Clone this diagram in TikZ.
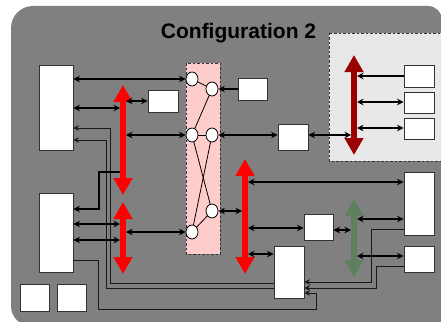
\documentclass[tikz,border=0pt]{standalone}
\usepackage{fontspec}
\setmainfont{Liberation Sans}
\usetikzlibrary{arrows.meta,shapes.geometric,calc}
\definecolor{bggray}{HTML}{808080}
\definecolor{pinkp}{HTML}{FFCCCC}
\definecolor{lightg}{HTML}{E8E8E8}
\definecolor{bred}{HTML}{FF0000}
\definecolor{dred}{HTML}{990000}
\definecolor{dgreen}{HTML}{5F805F}
\definecolor{edge}{HTML}{333333}
\tikzset{
  box/.style={draw=edge, fill=white, line width=0.9pt, inner sep=0pt},
  circ/.style={ellipse, draw=black, fill=white, minimum width=12pt, minimum height=14pt, inner sep=0pt, line width=0.8pt},
  conn/.style={line width=1.3pt, {Stealth[length=6.5pt,width=6.5pt]}-{Stealth[length=6.5pt,width=6.5pt]}},
  conn1/.style={line width=1.3pt, -{Stealth[length=6.5pt,width=6.5pt]}},
  wire/.style={line width=0.9pt, draw=black!90, -{Stealth[length=5.5pt,width=5.5pt]}},
  wireplain/.style={line width=0.9pt, draw=black!90},
  bigarr/.style={line width=6pt, {Triangle[length=17pt,width=18pt]}-{Triangle[length=17pt,width=18pt]}},
  dashbox/.style={draw=edge, line width=0.9pt, dash pattern=on 2.5pt off 2pt},
  link/.style={line width=0.8pt, draw=black}
}
\begin{document}
\begin{tikzpicture}[x=1pt,y=-1pt]
\useasboundingbox (0,0) rectangle (441,321);
\clip (0,0) rectangle (441,321);
% background
\fill[bggray] (11,150) [rounded corners=22pt] -- (11,6) -- (250,6) [rounded corners=14pt] -- (442,6) -- (442,150) [sharp corners] -- (442,326) -- (100,326) [rounded corners=20pt] -- (11,326) -- (11,150) -- cycle;
\node[font=\bfseries\fontsize{21}{21}\selectfont] (title) at (238.5,33) {Configuration 2};
% light gray region
\filldraw[fill=lightg, dashbox] (329,33) rectangle (450,161);
% pink panel
\filldraw[fill=pinkp, dashbox] (186,63) rectangle (220,254);
% circles
\node[circ] (c1) at (192,79) {};
\node[circ] (c2) at (212,89) {};
\node[circ] (c3) at (192,135) {};
\node[circ] (c4) at (212,135) {};
\node[circ] (c5) at (212,211) {};
\node[circ] (c6) at (192,232) {};
\draw[link] (c1) -- (c2);
\draw[link] (c2) -- (c3);
\draw[link] (c3) -- (c4);
\draw[link] (c3) -- (c5);
\draw[link] (c4) -- (c6);
\draw[link] (c5) -- (c6);
% boxes
\node[box, minimum width=34pt, minimum height=85pt] (L1) at (56,107.5) {};
\node[box, minimum width=34pt, minimum height=79pt] (L2) at (56,232.5) {};
\node[box, minimum width=30pt, minimum height=22pt] (B1) at (163,101) {};
\node[box, minimum width=29pt, minimum height=22pt] (B2) at (252.5,89) {};
\node[box, minimum width=30pt, minimum height=26pt] (B3) at (293,137) {};
\node[box, minimum width=30pt, minimum height=22pt] (R1) at (419,76) {};
\node[box, minimum width=30pt, minimum height=21pt] (R2) at (419,102.5) {};
\node[box, minimum width=30pt, minimum height=21pt] (R3) at (419,128.5) {};
\node[box, minimum width=30pt, minimum height=63pt] (R4) at (419,203.5) {};
\node[box, minimum width=30pt, minimum height=26pt] (R5) at (419,259) {};
\node[box, minimum width=29pt, minimum height=26pt] (M1) at (318.5,227) {};
\node[box, minimum width=29pt, minimum height=27pt] (S1) at (34.5,297.5) {};
\node[box, minimum width=29pt, minimum height=27pt] (S2) at (71.5,297.5) {};
% thin wires (behind M2)
\draw[wireplain] (289,283) -- (110,283) -- (110,128);
\draw[wire] (110,128) -- (L1.east |- 0,128);
\draw[wireplain] (289,288) -- (106,288) -- (106,140);
\draw[wire] (106,140) -- (L1.east |- 0,140);
\node[box, minimum width=30pt, minimum height=52pt] (M2) at (289,272) {};
\draw[wire] (L2.east |- 0,260) -- (98,260) -- (98,309) -- (316,309) -- (316,293) -- (M2.east |- 0,293);
\draw[wire] (R4.west |- 0,229) -- (371,229) -- (371,282) -- (M2.east |- 0,282);
\draw[wire] (R5.west |- 0,266) -- (376,266) -- (376,288) -- (M2.east |- 0,288);
% big arrows
\coordinate (A1) at (123,0);
\coordinate (A2) at (123,0);
\coordinate (A3) at (245,0);
\coordinate (A4) at (354,0);
\coordinate (A5) at (354,0);
\draw[bigarr, bred] ($(A1)+(0,85)$) -- ($(A1)+(0,195)$);
\draw[bigarr, bred] ($(A2)+(0,202)$) -- ($(A2)+(0,274)$);
\draw[bigarr, bred] ($(A3)+(0,159)$) -- ($(A3)+(0,274)$);
\draw[bigarr, dred] ($(A4)+(0,55)$) -- ($(A4)+(0,155)$);
\draw[bigarr, dgreen] ($(A5)+(0,199)$) -- ($(A5)+(0,277)$);
% black connectors
\draw[conn] (L1.east |- 0,79) -- (c1.west);
\draw[conn] (L1.east |- 0,108) -- ($(A1)+(-3,108)$);
\draw[conn] ($(A1)+(3,101)$) -- (B1.west |- 0,101);
\draw[conn] ($(A1)+(3,135)$) -- (c3.west);
\draw[conn1] (B2.west |- 0,89) -- (c2.east);
\draw[conn] (c4.east) -- (B3.west |- 0,135);
\draw[conn] (B3.east |- 0,135) -- ($(A4)+(-3,135)$);
\draw[conn1] (R1.west) -- ($(A4)+(3,76)$);
\draw[conn] ($(A4)+(3,102)$) -- (R2.west |- 0,102);
\draw[conn] ($(A4)+(3,128)$) -- (R3.west |- 0,128);
\draw[conn] (c5.east) -- ($(A3)+(-3,211)$);
\draw[conn] ($(A3)+(3,182)$) -- (R4.west |- 0,182);
\draw[conn] ($(A3)+(3,228)$) -- (M1.west |- 0,228);
\draw[conn] ($(A3)+(3,254)$) -- (M2.west |- 0,254);
\draw[conn] (M1.east |- 0,230) -- ($(A5)+(-3,230)$);
\draw[conn] ($(A5)+(3,219)$) -- (R4.west |- 0,219);
\draw[conn] ($(A5)+(3,256)$) -- (R5.west |- 0,256);
\draw[conn] (L2.east |- 0,224) -- ($(A2)+(-3,224)$);
\draw[conn] (L2.east |- 0,240) -- ($(A2)+(-3,240)$);
\draw[conn] ($(A2)+(3,232)$) -- (c6.west);
\draw[conn1] ($(A1)+(-3,172)$) -- (99,172) -- (99,209) -- (L2.east |- 0,209);
\end{tikzpicture}
\end{document}
